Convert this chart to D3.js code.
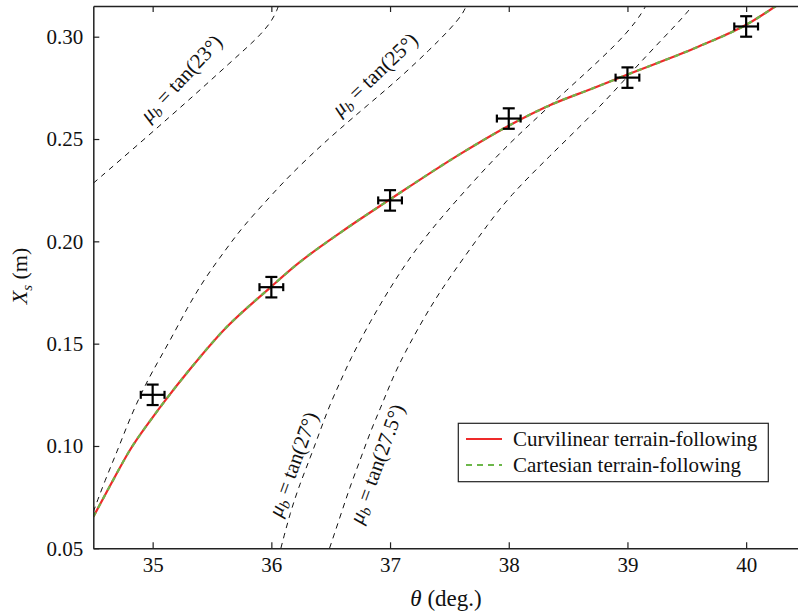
<!DOCTYPE html>
<html><head><meta charset="utf-8">
<script src="https://cdn.jsdelivr.net/npm/d3@7"></script>
<style>
html,body{margin:0;padding:0;background:#fff;}
</style></head>
<body><svg id="c" width="798" height="616"></svg>
<script>
// ---- data ----
const xTicks = [35, 36, 37, 38, 39, 40];
const yTicks = [0.05, 0.10, 0.15, 0.20, 0.25, 0.30];
const expTheta = [35, 36, 37, 38, 39, 40];
const expXs = [0.125, 0.1776, 0.220, 0.260, 0.280, 0.305];
const errTheta = 0.1;
const errXs = 0.005;
const simTheta = [34.5, 34.65, 34.8, 35.0, 35.1, 35.3, 35.6, 36.0, 36.2, 36.6, 37.0, 37.6, 38.0, 38.35, 38.7, 39.0, 39.6, 40.0, 40.25, 40.3];
const simXs = [0.0654, 0.0815, 0.0972, 0.1140, 0.1218, 0.1365, 0.1567, 0.1779, 0.1880, 0.2050, 0.2205, 0.2430, 0.2565, 0.2666, 0.2746, 0.2815, 0.2952, 0.3058, 0.3150, 0.3170];
const mu23Theta = [34.5, 34.94, 35.37, 35.65, 35.85, 35.93, 36.0, 36.05, 36.07];
const mu23Xs = [0.2284, 0.2504, 0.2724, 0.2872, 0.2976, 0.3025, 0.3074, 0.3131, 0.3170];
const mu25Theta = [34.5, 34.6, 34.7, 34.79, 34.89, 34.99, 35.15, 35.29, 35.44, 35.62, 35.76, 35.99, 36.16, 36.38, 36.55, 36.81, 37.08, 37.34, 37.5, 37.62, 37.65];
const mu25Xs = [0.0678, 0.0834, 0.0972, 0.1108, 0.1241, 0.1357, 0.1518, 0.1674, 0.1820, 0.1963, 0.2072, 0.2219, 0.2325, 0.2447, 0.2536, 0.2665, 0.2797, 0.2940, 0.3033, 0.3115, 0.3165];
const mu27Theta = [36.08, 36.16, 36.24, 36.33, 36.41, 36.49, 36.58, 36.66, 36.83, 37.03, 37.23, 37.45, 37.70, 37.94, 38.20, 38.49, 38.77, 39.0, 39.13, 39.17];
const mu27Xs = [0.050, 0.0677, 0.0814, 0.0946, 0.1073, 0.1198, 0.1313, 0.1418, 0.1606, 0.1802, 0.1973, 0.2129, 0.2291, 0.2442, 0.2584, 0.2740, 0.2887, 0.3019, 0.3121, 0.3170];
const mu275Theta = [36.49, 36.58, 36.66, 36.75, 36.83, 36.92, 37.0, 37.08, 37.25, 37.42, 37.62, 37.82, 38.01, 38.32, 38.77, 39.05, 39.28, 39.53, 39.56];
const mu275Xs = [0.050, 0.0655, 0.0797, 0.0934, 0.1064, 0.1186, 0.1301, 0.1406, 0.1591, 0.1755, 0.1919, 0.2080, 0.2222, 0.2403, 0.2657, 0.2838, 0.2980, 0.3132, 0.3170];
const muLabels = ["23", "25", "27", "27.5"];
const legendLabels = ["Curvilinear terrain-following", "Cartesian terrain-following"];

// ---- layout ----
const FONT = '"Liberation Serif", "Times New Roman", Times, "Nimbus Roman", "DejaVu Serif", serif';
const L = 93.3, R = 805.5, T = 6, B = 548.3;
const svg = d3.select("#c").style("font-family", FONT);
const x = d3.scaleLinear().domain([34.5, 40.5]).range([L, R]);
const y = d3.scaleLinear().domain([0.05, 0.315]).range([B, T]);

svg.append("defs").append("clipPath").attr("id", "clip")
  .append("rect").attr("x", L).attr("y", T).attr("width", 798 - L).attr("height", B - T);
const plot = svg.append("g").attr("clip-path", "url(#clip)");

const zip = (a, b) => a.map((v, i) => [v, b[i]]);
const smooth = d3.line().x(d => x(d[0])).y(d => y(d[1])).curve(d3.curveBasis);
const mono = d3.line().x(d => x(d[0])).y(d => y(d[1])).curve(d3.curveMonotoneX);

// black dashed mu_b curves
[[mu23Theta, mu23Xs], [mu25Theta, mu25Xs], [mu27Theta, mu27Xs], [mu275Theta, mu275Xs]].forEach(([tx, ty]) => {
  plot.append("path").attr("d", smooth(zip(tx, ty)))
    .attr("fill", "none").attr("stroke", "#111").attr("stroke-width", 1)
    .attr("stroke-dasharray", "5.5,5");
});

// simulation curves
const sim = zip(simTheta, simXs);
plot.append("path").attr("d", mono(sim)).attr("fill", "none")
  .attr("stroke", "#ee2a2a").attr("stroke-width", 2.2);
plot.append("path").attr("d", mono(sim)).attr("fill", "none")
  .attr("stroke", "#6cb74a").attr("stroke-width", 2.2).attr("stroke-dasharray", "5,5");

// error bars
const eb = svg.append("g").attr("stroke", "#000").attr("stroke-width", 2.2).attr("fill", "none");
expTheta.forEach((t, i) => {
  const cx = x(t), cy = y(expXs[i]);
  const x0 = x(t - errTheta), x1 = x(t + errTheta);
  const y0 = y(expXs[i] - errXs), y1 = y(expXs[i] + errXs);
  eb.append("line").attr("x1", x0).attr("x2", x1).attr("y1", cy).attr("y2", cy);
  eb.append("line").attr("x1", cx).attr("x2", cx).attr("y1", y0).attr("y2", y1);
  eb.append("line").attr("x1", x0).attr("x2", x0).attr("y1", cy - 4).attr("y2", cy + 4);
  eb.append("line").attr("x1", x1).attr("x2", x1).attr("y1", cy - 4).attr("y2", cy + 4);
  eb.append("line").attr("x1", cx - 6).attr("x2", cx + 6).attr("y1", y0).attr("y2", y0);
  eb.append("line").attr("x1", cx - 6).attr("x2", cx + 6).attr("y1", y1).attr("y2", y1);
});

// axes
const axColor = "#222";
const xb = svg.append("g").attr("transform", `translate(0,${B})`)
  .call(d3.axisBottom(x).tickValues(xTicks).tickSizeInner(-6).tickSizeOuter(0).tickPadding(9).tickFormat(d3.format("d")));
const xt = svg.append("g").attr("transform", `translate(0,${T})`)
  .call(d3.axisTop(x).tickValues(xTicks).tickSizeInner(-6).tickSizeOuter(0).tickFormat(""));
const yl = svg.append("g").attr("transform", `translate(${L},0)`)
  .call(d3.axisLeft(y).tickValues(yTicks).tickSizeInner(-6).tickSizeOuter(0).tickPadding(10).tickFormat(d3.format(".2f")));
[xb, xt, yl].forEach(g => {
  g.attr("font-family", null).attr("font-size", null);
  g.select(".domain").attr("stroke", axColor).attr("stroke-width", 1.5);
  g.selectAll(".tick line").attr("stroke", axColor).attr("stroke-width", 1.2);
  g.selectAll("text").style("font-family", FONT).attr("font-size", 21).attr("fill", "#111");
});
xb.selectAll("text").attr("dy", "0.71em");

// axis titles
const xlab = svg.append("text").attr("x", 446).attr("y", 606).attr("text-anchor", "middle")
  .style("font-family", FONT).attr("font-size", 23).attr("fill", "#111");
xlab.append("tspan").attr("font-style", "italic").text("θ");
xlab.append("tspan").text(" (deg.)");
const ylab = svg.append("text").attr("transform", "translate(27,276) rotate(-90)").attr("text-anchor", "middle")
  .style("font-family", FONT).attr("font-size", 22).attr("fill", "#111");
ylab.append("tspan").attr("font-style", "italic").text("X");
ylab.append("tspan").attr("font-style", "italic").attr("font-size", 15).attr("dy", 5).text("s");
ylab.append("tspan").attr("dy", -5).text(" (m)");

// mu_b annotations
const annPos = [[149, 123, -47], [340, 117, -43.5], [281, 518, -70], [362, 525, -70]];
muLabels.forEach((lab, i) => {
  const [ax, ay, ang] = annPos[i];
  const t = svg.append("text").attr("transform", `translate(${ax},${ay}) rotate(${ang})`)
    .style("font-family", FONT).attr("font-size", 21).attr("fill", "#111");
  t.append("tspan").attr("font-style", "italic").text("μ");
  t.append("tspan").attr("font-style", "italic").attr("font-size", 15).attr("dy", 4).text("b");
  t.append("tspan").attr("dy", -4).text(" = tan(" + lab + "°)");
});

// legend
const lg = svg.append("g");
lg.append("rect").attr("x", 458.3).attr("y", 423.3).attr("width", 310).attr("height", 58.4)
  .attr("fill", "#fff").attr("stroke", "#222").attr("stroke-width", 1.2);
const legColors = ["#ee2a2a", "#6cb74a"];
legendLabels.forEach((lab, i) => {
  const ly = 439 + i * 26;
  lg.append("line").attr("x1", 466).attr("x2", 502).attr("y1", ly).attr("y2", ly)
    .attr("stroke", legColors[i]).attr("stroke-width", 2.2)
    .attr("stroke-dasharray", i === 1 ? "6,5" : null);
  lg.append("text").attr("x", 513).attr("y", ly + 7).style("font-family", FONT)
    .attr("font-size", 21).attr("fill", "#111").text(lab);
});
</script></body></html>
